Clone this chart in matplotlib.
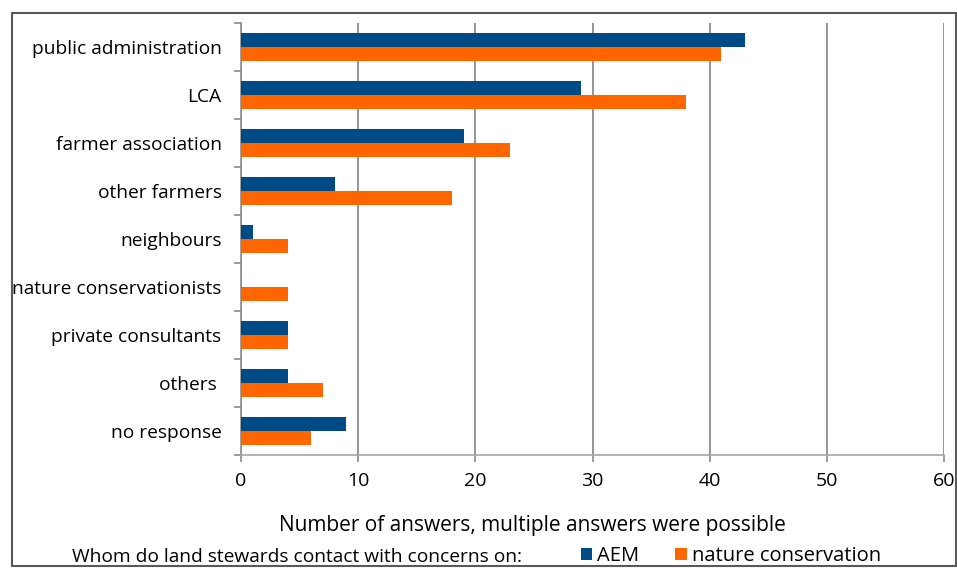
import numpy as np
import matplotlib
matplotlib.use('Agg')
from matplotlib import pyplot as plt
from matplotlib.patches import Rectangle

categories = ['public administration', 'LCA', 'farmer association', 'other farmers',
              'neighbours', 'nature conservationists', 'private consultants', 'others ',
              'no response']
aem = [43, 29, 19, 8, 1, 0, 4, 4, 9]
nature = [41, 38, 23, 18, 4, 4, 4, 7, 6]
xticks = [0, 10, 20, 30, 40, 50, 60]

plt.rcParams['font.family'] = ['Open Sans', 'DejaVu Sans']

fig = plt.figure(figsize=(9.57, 5.68), dpi=100)
ax = fig.add_axes([241/957, 1-455/568, (944-241)/957, (455-23)/568])

y = np.arange(len(categories))
h = 0.285
b1 = ax.barh(y - h/2, aem, height=h, color='#004a85', label='AEM', zorder=3)
b2 = ax.barh(y + h/2, nature, height=h, color='#ff6600', label='nature conservation', zorder=3)

ax.set_xlim(0, 60)
ax.set_ylim(len(categories) - 0.5, -0.5)
ax.set_xticks(xticks)
ax.set_yticks(y)
ax.set_yticklabels(categories, fontsize=13.8)
ax.set_yticks(np.arange(len(categories) + 1) - 0.5, minor=True)
ax.tick_params(axis='y', which='major', length=0, pad=14)
ax.tick_params(axis='y', which='minor', length=5, color='#8c8c8c', width=1.2)
ax.tick_params(axis='x', length=5, color='#8c8c8c', width=1.2, labelsize=14, pad=7)

ax.grid(axis='x', color='#8c8c8c', lw=1.3, zorder=0)
for s in ['top', 'right']:
    ax.spines[s].set_visible(False)
ax.spines['left'].set_color('#8c8c8c')
ax.spines['bottom'].set_color('#a6a6a6')
ax.spines['left'].set_linewidth(1.2)
ax.spines['bottom'].set_linewidth(1.2)

fig.text(532/957, 1-525/568, 'Number of answers, multiple answers were possible',
         ha='center', va='center', fontsize=15)
fig.text(72/957, 1-557/568, 'Whom do land stewards contact with concerns on:',
         ha='left', va='center', fontsize=13.8)
fig.legend(handles=[b1, b2], loc='center left', bbox_to_anchor=(581/957, 1-556/568),
           ncol=2, frameon=False, fontsize=14.5, handlelength=0.55, handleheight=0.55,
           handletextpad=0.25, columnspacing=1.8, borderpad=0, borderaxespad=0)

fig.patches.append(Rectangle((12/957, 1-566/568), (956-12)/957, (566-13)/568,
                             transform=fig.transFigure, fill=False,
                             edgecolor='#595959', lw=1.5))

fig.savefig('out.png', dpi=100)
